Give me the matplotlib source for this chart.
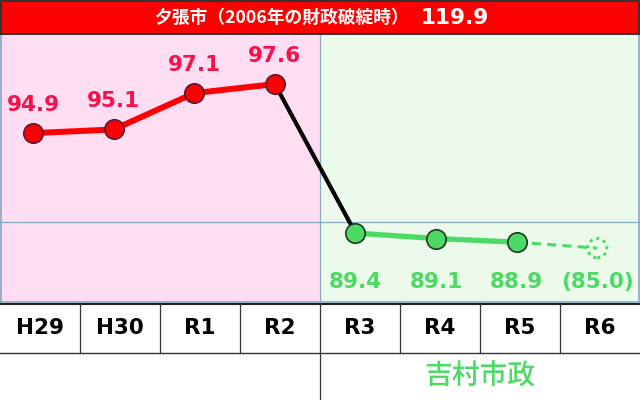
import numpy as np
import matplotlib
matplotlib.use('Agg')
import matplotlib.pyplot as plt
from matplotlib.patches import Rectangle
import matplotlib.transforms as mtransforms

# data
years = ['H29', 'H30', 'R1', 'R2', 'R3', 'R4', 'R5', 'R6']
values = [94.9, 95.1, 97.1, 97.6, 89.4, 89.1, 88.9, 85.0]
value_labels = ['94.9', '95.1', '97.1', '97.6', '89.4', '89.1', '88.9', '(85.0)']
title_text = '夕張市（2006年の財政破綻時）'
title_value = '119.9'
era_label = '吉村市政'

RED = '#FF0000'
LABEL_RED = '#F5124A'
GREEN = '#4CD964'
PINK_BG = '#FFDDF3'
GREEN_BG = '#EBFAEB'
GRID = '#86A8C2'
CJK = ['Noto Sans CJK JP', 'DejaVu Sans']

W, H = 640, 400
fig = plt.figure(figsize=(6.4, 4.0), dpi=100)

# %% title band
ax_t = fig.add_axes([0, 1 - 35 / H, 1, 35 / H])
ax_t.set_xlim(0, W)
ax_t.set_ylim(0, 35)
ax_t.axis('off')
ax_t.add_patch(Rectangle((1, 1), W - 2, 33, facecolor=RED, edgecolor='#333333', lw=1.5))
ax_t.text(409, 17, title_text, color='white', fontsize=12.8, family=CJK,
          weight='bold', ha='right', va='center')
ax_t.text(421, 17, title_value, color='white', fontsize=15.5, family='DejaVu Sans',
          weight='bold', ha='left', va='center')

# %% main chart
ax = fig.add_axes([0, 97 / H, 1, 268 / H])
ax.axis('off')

# compress the axis below the last actual value so the forecast fits
brk, k = 88.9, 0.085
fwd = lambda v: np.where(v >= brk, v, brk - (brk - v) * k)
inv = lambda v: np.where(v >= brk, v, brk - (brk - v) / k)
ax.set_yscale('function', functions=(fwd, inv))
ax.set_ylim(49.5, 100.3)
ax.set_xlim(-0.41, 7.53)

ax.add_patch(Rectangle((0, 0), 0.5, 1, transform=ax.transAxes, facecolor=PINK_BG,
                       edgecolor='none', zorder=0))
ax.add_patch(Rectangle((0.5, 0), 0.5, 1, transform=ax.transAxes, facecolor=GREEN_BG,
                       edgecolor='none', zorder=0))
ax.axhline(90, color=GRID, lw=0.9, zorder=1)
ax.plot([0.5, 0.5], [0, 1], transform=ax.transAxes, color=GRID, lw=0.9, zorder=1)
ax.plot([0.002, 0.002], [0, 1], transform=ax.transAxes, color=GRID, lw=1.2, zorder=1)
ax.plot([0.998, 0.998], [0, 1], transform=ax.transAxes, color=GRID, lw=1.2, zorder=1)
ax.plot([0, 1], [0.003, 0.003], transform=ax.transAxes, color=GRID, lw=1.2, zorder=1)

x = np.arange(len(years))
v = np.array(values)

ax.plot(x[:4], v[:4], color=RED, lw=4.3, zorder=2, solid_capstyle='round')
ax.plot(x[3:5], v[3:5], color='black', lw=3, zorder=2)
ax.plot(x[4:7], v[4:7], color=GREEN, lw=3.8, zorder=2)
ax.plot(x[6:8], v[6:8], color=GREEN, lw=2.2, ls=(0, (3, 2)), zorder=2)

ax.plot(x[:4], v[:4], 'o', ms=14, mfc=RED, mec='#5B1A3A', mew=1.2, zorder=3)
ax.plot(x[4:7], v[4:7], 'o', ms=14, mfc=GREEN, mec='#1E3A1E', mew=1.2, zorder=3)
ax.scatter(x[7:], v[7:], s=190, facecolors='none', edgecolors=GREEN,
           linewidths=2.2, linestyles=(0, (1, 1.3)), zorder=3)

for i in range(4):
    ax.annotate(value_labels[i], (x[i], v[i]), xytext=(0, 20.5), textcoords='offset points',
                ha='center', va='center', color=LABEL_RED, fontsize=15.5,
                family='DejaVu Sans', weight='bold')

blend = mtransforms.blended_transform_factory(ax.transData, ax.transAxes)
for i in range(4, 8):
    ax.text(x[i], 0.078, value_labels[i], transform=blend, ha='center', va='center',
            color=GREEN, fontsize=15.5, family='DejaVu Sans', weight='bold')

# %% table
ax_b = fig.add_axes([0, 0, 1, 97 / H])
ax_b.set_xlim(0, 8)
ax_b.set_ylim(0, 97)
ax_b.axis('off')
ax_b.add_patch(Rectangle((0, 0), 8, 97, facecolor='white', edgecolor='none', zorder=0))
ax_b.plot([0, 8], [96.5, 96.5], color='#222222', lw=1.5)
ax_b.plot([0, 8], [47, 47], color='#333333', lw=1.0)
for j in range(1, 8):
    ax_b.plot([j, j], [47, 97], color='#333333', lw=0.9)
ax_b.plot([4, 4], [0, 47], color='#333333', lw=0.9)
for j, yr in enumerate(years):
    ax_b.text(j + 0.5, 72, yr, ha='center', va='center', fontsize=15.5,
              family='DejaVu Sans', weight='bold', color='black')
ax_b.text(6, 24, era_label, ha='center', va='center', fontsize=20, family=CJK,
          weight='medium', color=GREEN)

fig.savefig('out.png', dpi=100)
